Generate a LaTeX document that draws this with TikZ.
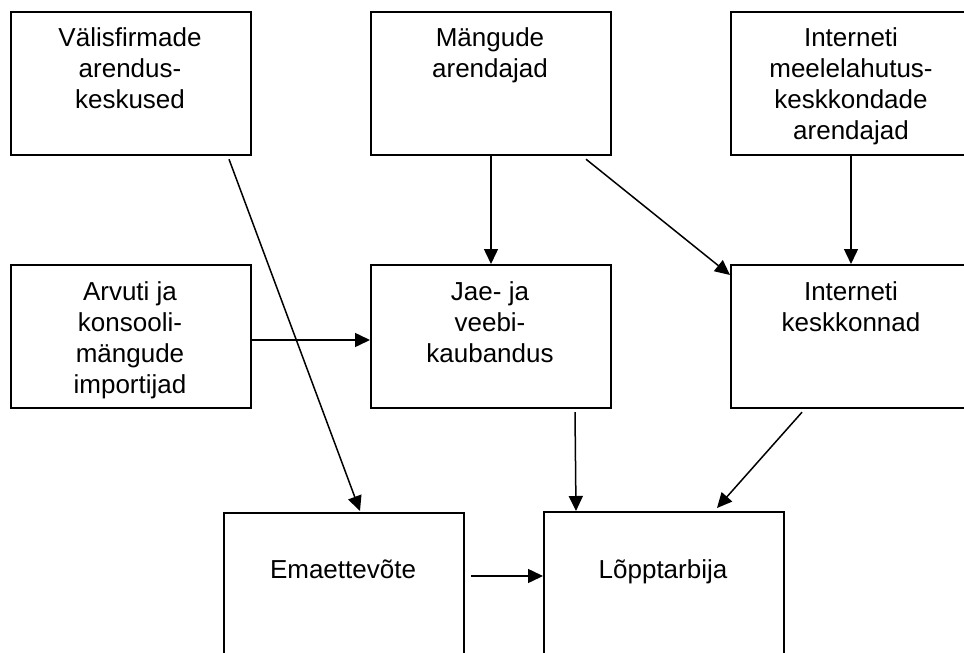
\documentclass[tikz,border=0pt]{standalone}
\usepackage{fontspec}
\setmainfont{Liberation Sans}
\usetikzlibrary{arrows.meta}
\begin{document}
\begin{tikzpicture}[x=1pt,y=-1pt,
  box/.style={draw,line width=2.2pt,minimum width=240pt,minimum height=143pt,inner sep=0pt,anchor=north west},
  tallbox/.style={box,minimum height=200pt},
  txt/.style={anchor=base,align=center,inner sep=0pt,font=\fontsize{26}{31}\selectfont},
  conn/.style={line width=1.5pt,-{Triangle[length=15pt,width=14pt]}}]
\useasboundingbox (0,0) rectangle (964,653);
\begin{scope}
\clip (0,0) rectangle (964,653);
\node[box] (v) at (10,11) {};
\node[box] (m) at (370,11) {};
\node[box] (i1) at (730,11) {};
\node[box] (a) at (10,264) {};
\node[box] (j) at (370,264) {};
\node[box] (i2) at (730,264) {};
\node[tallbox] (e) at (223,512) {};
\node[tallbox] (l) at (543,511) {};
\end{scope}
\node[txt] (tv) at (130,108) {Välisfirmade\\arendus-\\keskused};
\node[txt] (tm) at (490,77) {Mängude\\arendajad};
\node[txt] (ti1) at (851,139) {Interneti\\meelelahutus-\\keskkondade\\arendajad};
\node[txt] (ta) at (130,393) {Arvuti ja\\konsooli-\\mängude\\importijad};
\node[txt] (tj) at (490,362) {Jae- ja\\veebi-\\kaubandus};
\node[txt] (ti2) at (851,331) {Interneti\\keskkonnad};
\node[txt] (te) at (343,578) {Emaettevõte};
\node[txt] (tl) at (663,578) {Lõpptarbija};
% connectors
\draw[conn] ([xshift=219pt,yshift=-3pt]v.south west) -- ([xshift=137pt,yshift=1pt]e.north west);
\draw[conn] ([xshift=121pt]m.south west) -- ([xshift=121pt]j.north west);
\draw[conn] ([xshift=216pt,yshift=-3pt]m.south west) -- ([yshift=-11pt]i2.north west);
\draw[conn] ([xshift=121pt]i1.south west) -- ([xshift=121pt]i2.north west);
\draw[conn] ([yshift=-76pt]a.north east) -- ([yshift=-76pt]j.north west);
\draw[conn] ([xshift=205pt,yshift=-3pt]j.south west) -- ([xshift=33pt]l.north west);
\draw[conn] ([xshift=72pt,yshift=-3pt]i2.south west) -- ([xshift=174pt,yshift=3pt]l.north west);
\draw[conn] ([xshift=6pt,yshift=-64pt]e.north east) -- ([yshift=-65pt]l.north west);
\end{tikzpicture}
\end{document}
